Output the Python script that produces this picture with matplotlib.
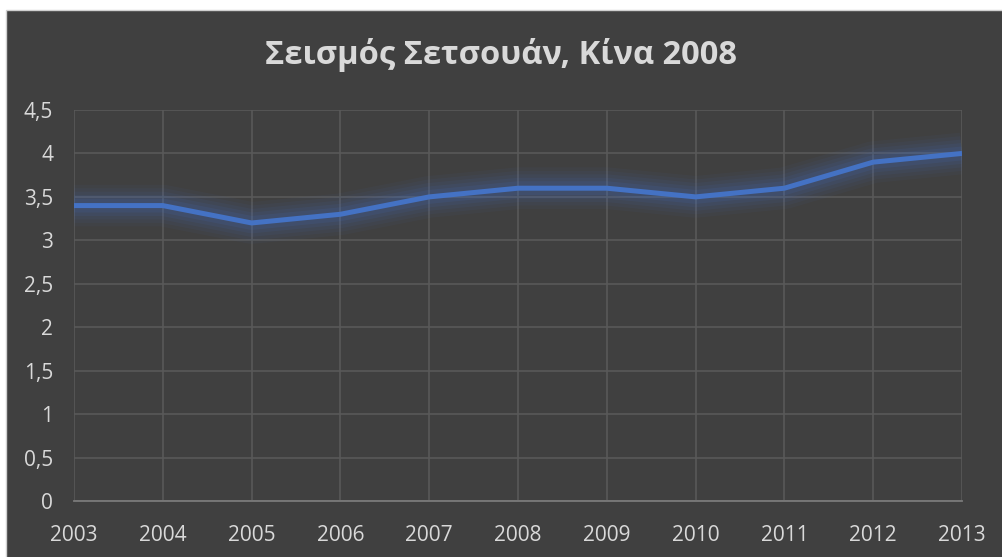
import matplotlib
matplotlib.use("Agg")
import matplotlib.pyplot as plt
from matplotlib.patches import Rectangle
from matplotlib.ticker import FuncFormatter

years = ["2003", "2004", "2005", "2006", "2007", "2008", "2009", "2010", "2011", "2012", "2013"]
values = [3.4, 3.4, 3.2, 3.3, 3.5, 3.6, 3.6, 3.5, 3.6, 3.9, 4.0]
title = "Σεισμός Σετσουάν, Κίνα 2008"

BG = "#404040"
GRID = "#595959"
TXT = "#d9d9d9"
BLUE = "#4472c4"

plt.rcParams["font.family"] = ["Open Sans", "DejaVu Sans"]

W, H = 1003, 557
fig = plt.figure(figsize=(W / 100, H / 100), dpi=100)
fig.patch.set_facecolor("white")
bg = Rectangle((6 / W, -0.01), 1.0, (H - 9.5) / H + 0.01, transform=fig.transFigure,
               facecolor=BG, edgecolor="#d0d0d0", lw=1, zorder=-10)
fig.patches.append(bg)

ax = fig.add_axes([74 / W, (H - 501) / H, (962 - 74) / W, (501 - 110) / H])
ax.set_facecolor(BG)
x = list(range(len(years)))

# soft glow under the line
for lw, a in [(30, 0.05), (25, 0.06), (20, 0.07), (15, 0.09), (10, 0.12)]:
    ax.plot(x, values, color=BLUE, lw=lw, alpha=a, solid_capstyle="butt", solid_joinstyle="round", zorder=2)
ax.plot(x, values, color=BLUE, lw=3.6, solid_capstyle="butt", solid_joinstyle="round", zorder=3)

ax.set_xlim(0, len(years) - 1)
ax.set_ylim(0, 4.5)
ax.set_xticks(x)
ax.set_xticklabels(years)
ax.set_yticks([i * 0.5 for i in range(10)])
ax.yaxis.set_major_formatter(FuncFormatter(lambda v, p: ("%g" % v).replace(".", ",")))
ax.tick_params(length=0, colors=TXT, labelsize=15)
ax.tick_params(axis="y", pad=15)
ax.tick_params(axis="x", pad=17)
ax.grid(True, color=GRID, lw=1.2, zorder=1)
ax.set_axisbelow(True)
for s in ["top", "right", "left"]:
    ax.spines[s].set_visible(False)
ax.spines["bottom"].set_color("#7a7a7a")
ax.spines["bottom"].set_linewidth(1.3)

fig.text(0.5, (H - 55) / H, title, ha="center", va="center", color=TXT, fontsize=23.5, fontweight="bold")

fig.savefig("out.png", dpi=100, facecolor=fig.get_facecolor())
